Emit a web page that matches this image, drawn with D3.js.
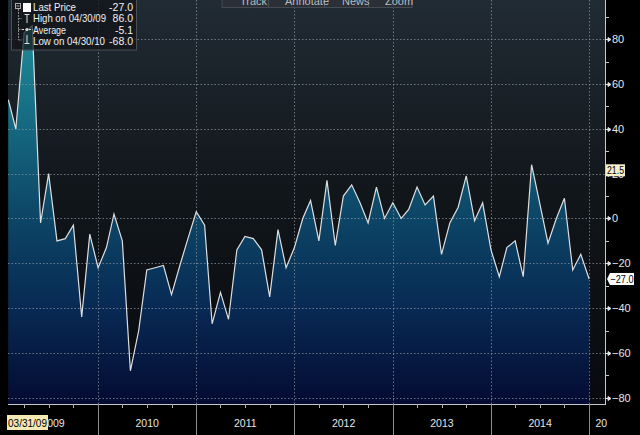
<!DOCTYPE html>
<html>
<head>
<meta charset="utf-8">
<script src="https://cdn.jsdelivr.net/npm/d3@7"></script>
<style>
  html, body { margin: 0; padding: 0; background: #000; }
  svg { display: block; font-family: "Liberation Sans", Arial, sans-serif; }
</style>
</head>
<body>
<svg id="chart" width="640" height="435"></svg>
<script>
// ---- data (monthly, month-end, Jan 2009 .. Dec 2014) ----
const startYear = 2009;
const startMonth = 1; // Feb 1 = Jan month-end
const values = [
  53, 40, 83, 86, -2, 20, -10, -9, -3, -44, -7, -22,
  -13, 2, -10, -68, -50, -23, -22, -21, -34, -21, -9, 3,
  -3, -47, -33, -45, -14, -8, -9, -14, -35, -5, -22, -13,
  0, 8, -10, 17, -12, 10, 15, 7, -2, 14, 0, 7,
  0, 4, 14, 6, 10, -16, -2, 5, 19, -1, 7, -14,
  -26, -13, -10, -26, 24, 7, -11, 0, 9, -23, -16, -27
];
const yTickValues = [-80, -60, -40, -20, 0, 20, 40, 60, 80];
const yMinorTicks = [-70, -50, -30, -10, 10, 30, 50, 70, 90];
const yearLabels = ["2009", "2010", "2011", "2012", "2013", "2014", "2015"];
const legendRows = [
  { label: "Last Price", value: "-27.0" },
  { label: "High on 04/30/09", value: "86.0" },
  { label: "Average", value: "-5.1" },
  { label: "Low on 04/30/10", value: "-68.0" }
];
const lastValue = -27.0;
const markerValue = 21.5;
const startDateLabel = "03/31/09";
const toolbarItems = ["Track", "Annotate", "News", "Zoom"];

const data = values.map((v, i) => ({ date: new Date(startYear, startMonth + i, 1), v }));

// ---- layout ----
const svg = d3.select("#chart");
const plotL = 8, plotR = 605, plotT = 0, plotB = 404;

const x = d3.scaleTime()
  .domain([new Date(2009, 1, 1), new Date(2015, 2, 1)])
  .range([8.3, 605]);
const y = d3.scaleLinear().domain([-82.8, 97.5]).range([plotB, plotT]);

const defs = svg.append("defs");
const bg = defs.append("linearGradient").attr("id", "bgGrad")
  .attr("x1", 0).attr("y1", 0).attr("x2", 0).attr("y2", 1);
bg.append("stop").attr("offset", 0).attr("stop-color", "#212b34");
bg.append("stop").attr("offset", 0.45).attr("stop-color", "#12171c");
bg.append("stop").attr("offset", 1).attr("stop-color", "#07090e");

const ag = defs.append("linearGradient").attr("id", "areaGrad")
  .attr("gradientUnits", "userSpaceOnUse")
  .attr("x1", 0).attr("y1", 0).attr("x2", 0).attr("y2", plotB);
ag.append("stop").attr("offset", 0).attr("stop-color", "#24949f");
ag.append("stop").attr("offset", 0.25).attr("stop-color", "#177287");
ag.append("stop").attr("offset", 0.52).attr("stop-color", "#0d4868");
ag.append("stop").attr("offset", 0.76).attr("stop-color", "#082a54");
ag.append("stop").attr("offset", 1).attr("stop-color", "#040b32");

defs.append("clipPath").attr("id", "plotClip")
  .append("rect").attr("x", plotL).attr("y", plotT).attr("width", plotR - plotL).attr("height", plotB - plotT);
defs.append("clipPath").attr("id", "botClip")
  .append("rect").attr("x", 0).attr("y", plotB).attr("width", 607).attr("height", 40);

// background
svg.append("rect").attr("width", 640).attr("height", 435).attr("fill", "#000");
svg.append("rect").attr("x", plotL).attr("y", plotT)
  .attr("width", plotR - plotL).attr("height", plotB - plotT).attr("fill", "url(#bgGrad)");

// area
const plot = svg.append("g").attr("clip-path", "url(#plotClip)");
plot.append("path").datum(data)
  .attr("fill", "url(#areaGrad)")
  .attr("d", d3.area().x(d => x(d.date)).y0(plotB).y1(d => y(d.v)));

// grid
const years = d3.timeYear.range(new Date(2010, 0, 1), new Date(2015, 0, 2));
const grid = svg.append("g").attr("stroke", "#8a949c").attr("stroke-opacity", 0.75)
  .attr("stroke-width", 1).attr("stroke-dasharray", "1.5,2");
grid.selectAll("line.h").data(yTickValues).join("line")
  .attr("x1", plotL).attr("x2", plotR)
  .attr("y1", d => Math.round(y(d)) + 0.5).attr("y2", d => Math.round(y(d)) + 0.5);
grid.selectAll("line.v").data(years).join("line")
  .attr("y1", plotT).attr("y2", plotB)
  .attr("x1", d => Math.round(x(d)) + 0.5).attr("x2", d => Math.round(x(d)) + 0.5);

// line
const linePlot = svg.append("g").attr("clip-path", "url(#plotClip)");
linePlot.append("path").datum(data)
  .attr("fill", "none").attr("stroke", "#dedede").attr("stroke-width", 1.2)
  .attr("d", d3.line().x(d => x(d.date)).y(d => y(d.v)));

// right axis
const ra = svg.append("g");
ra.append("line").attr("x1", plotR + 0.5).attr("x2", plotR + 0.5).attr("y1", 0).attr("y2", plotB)
  .attr("stroke", "#c8c8c8");
ra.selectAll("line.minor").data(yMinorTicks).join("line")
  .attr("x1", plotR).attr("x2", plotR + 4)
  .attr("y1", d => Math.round(y(d)) + 0.5).attr("y2", d => Math.round(y(d)) + 0.5)
  .attr("stroke", "#c8c8c8");
ra.selectAll("path.major").data(yTickValues).join("path")
  .attr("d", d => { const yy = Math.round(y(d)) + 0.5; return `M${plotR},${yy}H${plotR + 4}M${plotR + 3},${yy - 2}L${plotR + 6},${yy}L${plotR + 3},${yy + 2}Z`; })
  .attr("stroke", "#e0e0e0").attr("fill", "#e0e0e0").attr("stroke-width", 1);
ra.selectAll("text").data(yTickValues).join("text")
  .attr("x", plotR + 7).attr("y", d => y(d) + 4)
  .attr("fill", "#e6e6e6").attr("font-size", 11)
  .text(d => d3.format("d")(d));

// marker 21.5 tag
const my = y(markerValue);
svg.append("rect").attr("x", plotR + 1).attr("y", my - 6).attr("width", 19).attr("height", 12)
  .attr("fill", "#f6efc8");
svg.append("text").attr("x", plotR + 2).attr("y", my + 4).attr("fill", "#000")
  .attr("font-size", 10).attr("textLength", 17).attr("lengthAdjust", "spacingAndGlyphs")
  .text(d3.format(".1f")(markerValue));

// last price tag
const ly = y(lastValue);
svg.append("path")
  .attr("d", `M${plotR + 2},${ly}L${plotR + 5},${ly - 6}H${plotR + 29}V${ly + 6}H${plotR + 5}Z`)
  .attr("fill", "#ffffff");
svg.append("text").attr("x", plotR + 5.5).attr("y", ly + 4).attr("fill", "#000")
  .attr("font-size", 10).attr("textLength", 23).attr("lengthAdjust", "spacingAndGlyphs")
  .text(d3.format(".1f")(lastValue));

// bottom axis
const ba = svg.append("g");
ba.append("line").attr("x1", plotL).attr("x2", plotR + 1).attr("y1", plotB + 0.5).attr("y2", plotB + 0.5)
  .attr("stroke", "#c8c8c8");
const quarters = d3.timeMonth.every(3).range(new Date(2009, 3, 1), new Date(2015, 2, 1))
  .filter(d => d.getMonth() !== 0);
ba.selectAll("line.q").data(quarters).join("line")
  .attr("x1", d => Math.round(x(d)) + 0.5).attr("x2", d => Math.round(x(d)) + 0.5)
  .attr("y1", plotB).attr("y2", plotB + 4).attr("stroke", "#b0b0b0");
ba.selectAll("line.y").data(years).join("line")
  .attr("x1", d => Math.round(x(d)) + 0.5).attr("x2", d => Math.round(x(d)) + 0.5)
  .attr("y1", plotB).attr("y2", 435).attr("stroke", "#8c8c8c");
const yb = [new Date(2009, 1, 1)].concat(years).concat([new Date(2016, 0, 1)]);
const labG = ba.append("g").attr("clip-path", "url(#botClip)");
labG.selectAll("text").data(yearLabels).join("text")
  .attr("x", (d, i) => i === 0 ? 53 : (i === yearLabels.length - 1 ? x(yb[i]) + 18 : (x(yb[i]) + x(yb[i + 1])) / 2))
  .attr("y", 427).attr("text-anchor", "middle")
  .attr("fill", "#e6e6e6").attr("font-size", 10.5).text(d => d);
// start date tag
ba.append("rect").attr("x", 7).attr("y", 415).attr("width", 41).attr("height", 15).attr("fill", "#f4e9b4");
ba.append("text").attr("x", 8).attr("y", 427).attr("fill", "#000").attr("font-size", 10.5)
  .attr("textLength", 39).attr("lengthAdjust", "spacingAndGlyphs").text(startDateLabel);

// legend
const lg = svg.append("g");
lg.append("rect").attr("x", 11.5).attr("y", -1).attr("width", 125).attr("height", 51)
  .attr("fill", "rgba(16,20,24,0.72)").attr("stroke", "#4a5056");
const rowY = [11, 22, 33.5, 44.5];
const labelLen = [43, 73, 33, 72];
lg.selectAll("text.l").data(legendRows).join("text")
  .attr("x", 33).attr("y", (d, i) => rowY[i])
  .attr("fill", "#f0f0f0").attr("font-size", 10.5)
  .attr("textLength", (d, i) => labelLen[i]).attr("lengthAdjust", "spacingAndGlyphs")
  .text(d => d.label);
lg.selectAll("text.v").data(legendRows).join("text")
  .attr("x", 133).attr("y", (d, i) => rowY[i]).attr("text-anchor", "end")
  .attr("fill", "#f0f0f0").attr("font-size", 10.5).text(d => d.value);
// legend icons
lg.append("rect").attr("x", 15.5).attr("y", 3.5).attr("width", 5).attr("height", 5)
  .attr("fill", "none").attr("stroke", "#aaa");
lg.append("line").attr("x1", 16.5).attr("x2", 19.5).attr("y1", 6).attr("y2", 6).attr("stroke", "#aaa");
lg.append("rect").attr("x", 23).attr("y", 3).attr("width", 8).attr("height", 9).attr("fill", "#fff");
lg.append("path").attr("d", "M18.5,9V40M18.5,18.5H22M18.5,29.5H22M18.5,40H22")
  .attr("stroke", "#888").attr("fill", "none").attr("stroke-dasharray", "2,1");
lg.append("path").attr("d", "M24.5,14.5H29.5M27,14.5V23")
  .attr("stroke", "#ddd").attr("fill", "none");
lg.append("path").attr("d", "M22,29.5H33").attr("stroke", "#ddd").attr("stroke-dasharray", "2,1.5");
lg.append("circle").attr("cx", 27).attr("cy", 29.5).attr("r", 1.5).attr("fill", "#ddd");
lg.append("path").attr("d", "M27,35V43.5M24.5,43.5H29.5")
  .attr("stroke", "#ddd").attr("fill", "none");

// toolbar
const tb = svg.append("g");
tb.append("rect").attr("x", 222).attr("y", -3).attr("width", 190).attr("height", 10.5)
  .attr("fill", "#2a3036").attr("stroke", "#444b52");
[268, 324, 368].forEach(sx => tb.append("line").attr("x1", sx + 0.5).attr("x2", sx + 0.5)
  .attr("y1", -2).attr("y2", 7).attr("stroke", "#4a5158"));
const tbX = [240, 285, 342, 385];
tb.selectAll("text").data(toolbarItems).join("text")
  .attr("x", (d, i) => tbX[i]).attr("y", 4.5).attr("fill", "#b8bcc0").attr("font-size", 11).text(d => d);
</script>
</body>
</html>
